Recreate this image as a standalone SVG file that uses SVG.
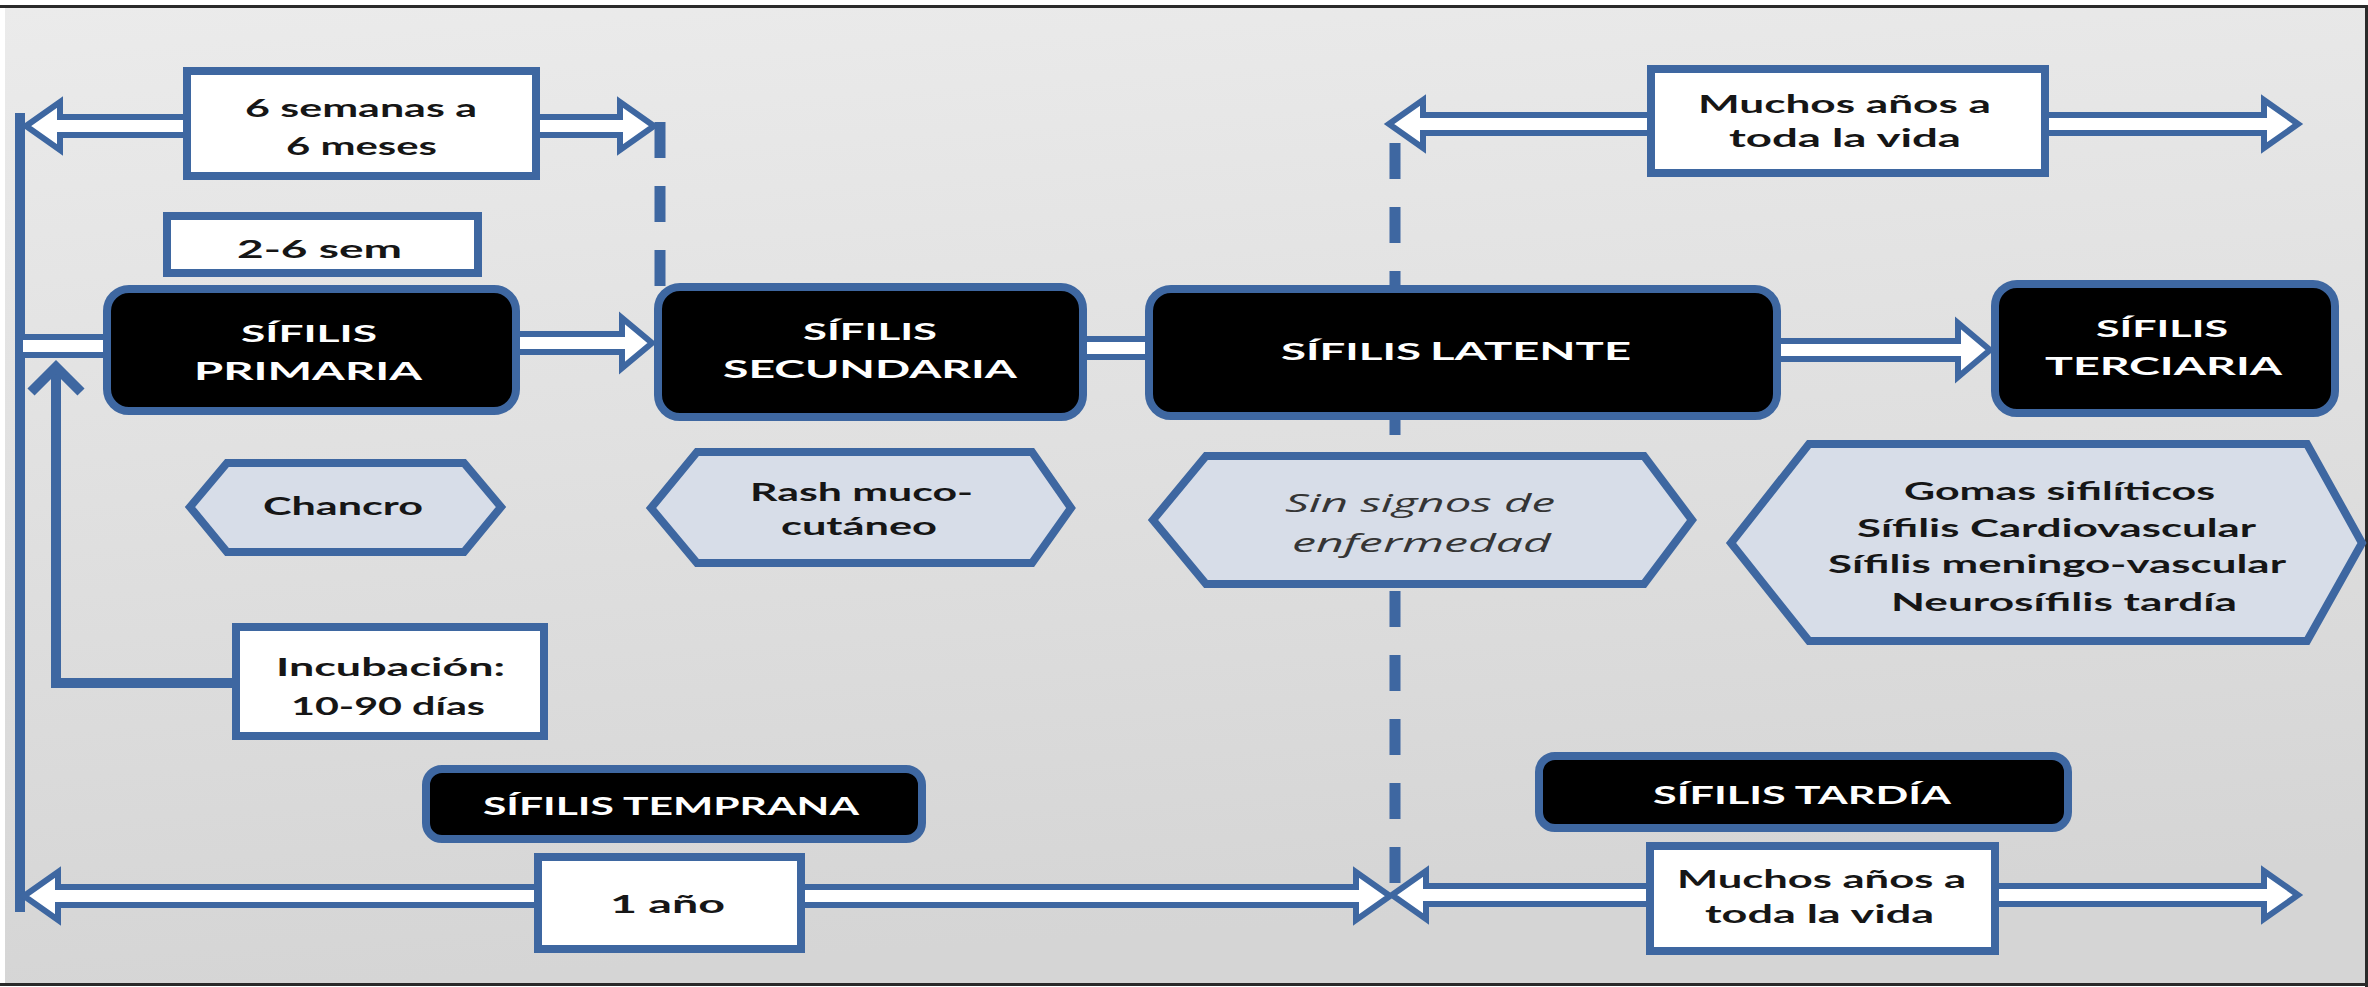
<svg xmlns="http://www.w3.org/2000/svg" xmlns:xlink="http://www.w3.org/1999/xlink" width="2368" height="987" viewBox="0 0 2368 987">
<defs>
<linearGradient id="bg" x1="0" y1="0" x2="0.15" y2="1">
<stop offset="0" stop-color="#ebebeb"/>
<stop offset="1" stop-color="#d5d5d5"/>
</linearGradient>
<path id="aTL" d="M26,126 L60,102 L60,117 L620,117 L620,102 L654,126 L620,150 L620,135 L60,135 L60,150 Z"/>
<path id="aTR" d="M1389,124 L1423,100 L1423,115 L2264,115 L2264,100 L2298,124 L2264,148 L2264,133 L1423,133 L1423,148 Z"/>
<path id="aBL" d="M24,896 L58,872 L58,887 L1356,887 L1356,872 L1390,896 L1356,920 L1356,905 L58,905 L58,920 Z"/>
<path id="aBR" d="M1392,895 L1426,871 L1426,886 L2264,886 L2264,871 L2298,895 L2264,919 L2264,904 L1426,904 L1426,919 Z"/>
<path id="aPS" d="M512,334 L622,334 L622,318 L652,343 L622,368 L622,352 L512,352 Z"/>
<path id="aLT" d="M1772,341 L1958,341 L1958,323 L1990,350 L1958,377 L1958,359 L1772,359 Z"/>
<path id="bLP" d="M20,337 L110,337 L110,355 L20,355 Z"/>
<path id="bSL" d="M1080,339 L1153,339 L1153,357 L1080,357 Z"/>
</defs>
<style>
.blk{fill:#000;stroke:#3e67a1;stroke-width:8}
.wbox{fill:#fff;stroke:#3e67a1;stroke-width:8}
.hex{fill:#d7dde8;stroke:#3e67a1;stroke-width:8;stroke-linejoin:miter}
.t{font-family:Lato,"Open Sans","Liberation Sans",sans-serif;font-weight:700;font-size:25px;fill:#161616}
.tw{fill:#ffffff}
.sm{font-size:22px}
.ti{font-family:"Open Sans","Noto Sans",sans-serif;font-style:italic;font-weight:400;font-size:25px;fill:#353535}
.ln{stroke:#3e67a1;stroke-width:10;fill:none}
.dl{stroke:#3e67a1;stroke-width:11;fill:none;stroke-dasharray:36 28}
.af{fill:#fff;stroke:none}
.ao{fill:none;stroke:#3e67a1;stroke-width:6;stroke-linejoin:miter}
.frame{stroke:#2a2a2a;stroke-width:3;fill:none}
</style>
<rect x="0" y="0" width="2368" height="987" fill="#ffffff"/>
<rect x="5" y="7" width="2361" height="977" fill="url(#bg)"/>
<path class="frame" d="M0,6.5 H2368 M2366.5,6 V987 M0,984.5 H2368"/>

<g id="connectors">
<path class="ln" d="M20,113 V912"/>
<path class="ln" d="M56,368 V683 H236"/>
<path class="ln" d="M31,392 L56,367 L81,392"/>
<path class="dl" d="M660,122 V286"/>
<path class="dl" d="M1395,143 V895"/>
<use xlink:href="#aTL" class="af"/>
<use xlink:href="#aTR" class="af"/>
<use xlink:href="#aBL" class="af"/>
<use xlink:href="#aBR" class="af"/>
<use xlink:href="#aPS" class="af"/>
<use xlink:href="#aLT" class="af"/>
<use xlink:href="#bLP" class="af"/>
<use xlink:href="#bSL" class="af"/>
<use xlink:href="#aTL" class="ao"/>
<use xlink:href="#aTR" class="ao"/>
<use xlink:href="#aBL" class="ao"/>
<use xlink:href="#aBR" class="ao"/>
<use xlink:href="#aPS" class="ao"/>
<use xlink:href="#aLT" class="ao"/>
<use xlink:href="#bLP" class="ao"/>
<use xlink:href="#bSL" class="ao"/>
</g>

<g id="n-6semanas">
<rect class="wbox" x="187" y="71" width="349" height="105"/>
<text class="t" x="245" y="117" textLength="232" lengthAdjust="spacingAndGlyphs">6 semanas a</text>
<text class="t" x="286" y="155" textLength="151" lengthAdjust="spacingAndGlyphs">6 meses</text>
</g>
<g id="n-2-6sem">
<rect class="wbox" x="167" y="216" width="311" height="57"/>
<text class="t" x="237" y="258" textLength="165" lengthAdjust="spacingAndGlyphs">2-6 sem</text>
</g>
<g id="n-primaria">
<rect class="blk" x="107" y="289" width="409" height="122" rx="22"/>
<text class="t tw sm" x="241" y="342" textLength="136" lengthAdjust="spacingAndGlyphs">SÍFILIS</text>
<text class="t tw" x="194" y="380" textLength="228" lengthAdjust="spacingAndGlyphs">PRIMARIA</text>
</g>
<g id="n-secundaria">
<rect class="blk" x="658" y="287" width="425" height="130" rx="22"/>
<text class="t tw sm" x="803" y="340" textLength="134" lengthAdjust="spacingAndGlyphs">SÍFILIS</text>
<text class="t tw" x="723" y="378" textLength="294" lengthAdjust="spacingAndGlyphs">SECUNDARIA</text>
</g>
<g id="n-latente">
<rect class="blk" x="1149" y="289" width="628" height="127" rx="22"/>
<text class="t tw sm" x="1281" y="360" textLength="140" lengthAdjust="spacingAndGlyphs">SÍFILIS</text>
<text class="t tw" x="1430" y="360" textLength="201" lengthAdjust="spacingAndGlyphs">LATENTE</text>
</g>
<g id="n-terciaria">
<rect class="blk" x="1995" y="284" width="340" height="129" rx="22"/>
<text class="t tw sm" x="2096" y="337" textLength="132" lengthAdjust="spacingAndGlyphs">SÍFILIS</text>
<text class="t tw" x="2045" y="375" textLength="237" lengthAdjust="spacingAndGlyphs">TERCIARIA</text>
</g>
<g id="n-muchos-top">
<rect class="wbox" x="1651" y="69" width="394" height="104"/>
<text class="t" x="1698" y="113" textLength="293" lengthAdjust="spacingAndGlyphs">Muchos años a</text>
<text class="t" x="1729" y="147" textLength="232" lengthAdjust="spacingAndGlyphs">toda la vida</text>
</g>
<g id="n-chancro">
<polygon class="hex" points="190,507 227,463 464,463 501,507 464,552 227,552"/>
<text class="t" x="263" y="515" textLength="160" lengthAdjust="spacingAndGlyphs">Chancro</text>
</g>
<g id="n-rash">
<polygon class="hex" points="651,508 697,452 1032,452 1071,508 1032,563 697,563"/>
<text class="t" x="750" y="501" textLength="223" lengthAdjust="spacingAndGlyphs">Rash muco-</text>
<text class="t" x="781" y="535" textLength="156" lengthAdjust="spacingAndGlyphs">cutáneo</text>
</g>
<g id="n-sinsignos">
<polygon class="hex" points="1153,520 1206,456 1644,456 1692,520 1644,584 1206,584"/>
<text class="ti" x="1285" y="512" textLength="270" lengthAdjust="spacingAndGlyphs">Sin signos de</text>
<text class="ti" x="1292" y="552" textLength="259" lengthAdjust="spacingAndGlyphs">enfermedad</text>
</g>
<g id="n-gomas">
<polygon class="hex" points="1731,543 1809,444 2307,444 2362,543 2307,641 1809,641"/>
<text class="t" x="1904" y="500" font-size="24" textLength="311" lengthAdjust="spacingAndGlyphs">Gomas sifilíticos</text>
<text class="t" x="1857" y="537" font-size="24" textLength="399" lengthAdjust="spacingAndGlyphs">Sífilis Cardiovascular</text>
<text class="t" x="1828" y="573" font-size="24" textLength="458" lengthAdjust="spacingAndGlyphs">Sífilis meningo-vascular</text>
<text class="t" x="1891" y="611" font-size="24" textLength="346" lengthAdjust="spacingAndGlyphs">Neurosífilis tardía</text>
</g>
<g id="n-incubacion">
<rect class="wbox" x="236" y="627" width="308" height="109"/>
<text class="t" x="276" y="676" textLength="229" lengthAdjust="spacingAndGlyphs">Incubación:</text>
<text class="t" x="291" y="715" textLength="194" lengthAdjust="spacingAndGlyphs">10-90 días</text>
</g>
<g id="n-temprana">
<rect class="blk" x="426" y="769" width="496" height="70" rx="16"/>
<text class="t tw" x="483" y="815" textLength="376" lengthAdjust="spacingAndGlyphs">SÍFILIS TEMPRANA</text>
</g>
<g id="n-1ano">
<rect class="wbox" x="538" y="857" width="263" height="92"/>
<text class="t" x="610" y="913" textLength="115" lengthAdjust="spacingAndGlyphs">1 año</text>
</g>
<g id="n-tardia">
<rect class="blk" x="1539" y="756" width="529" height="72" rx="16"/>
<text class="t tw" x="1653" y="804" textLength="298" lengthAdjust="spacingAndGlyphs">SÍFILIS TARDÍA</text>
</g>
<g id="n-muchos-bottom">
<rect class="wbox" x="1650" y="846" width="345" height="105"/>
<text class="t" x="1677" y="888" textLength="289" lengthAdjust="spacingAndGlyphs">Muchos años a</text>
<text class="t" x="1705" y="923" textLength="229" lengthAdjust="spacingAndGlyphs">toda la vida</text>
</g>
</svg>
